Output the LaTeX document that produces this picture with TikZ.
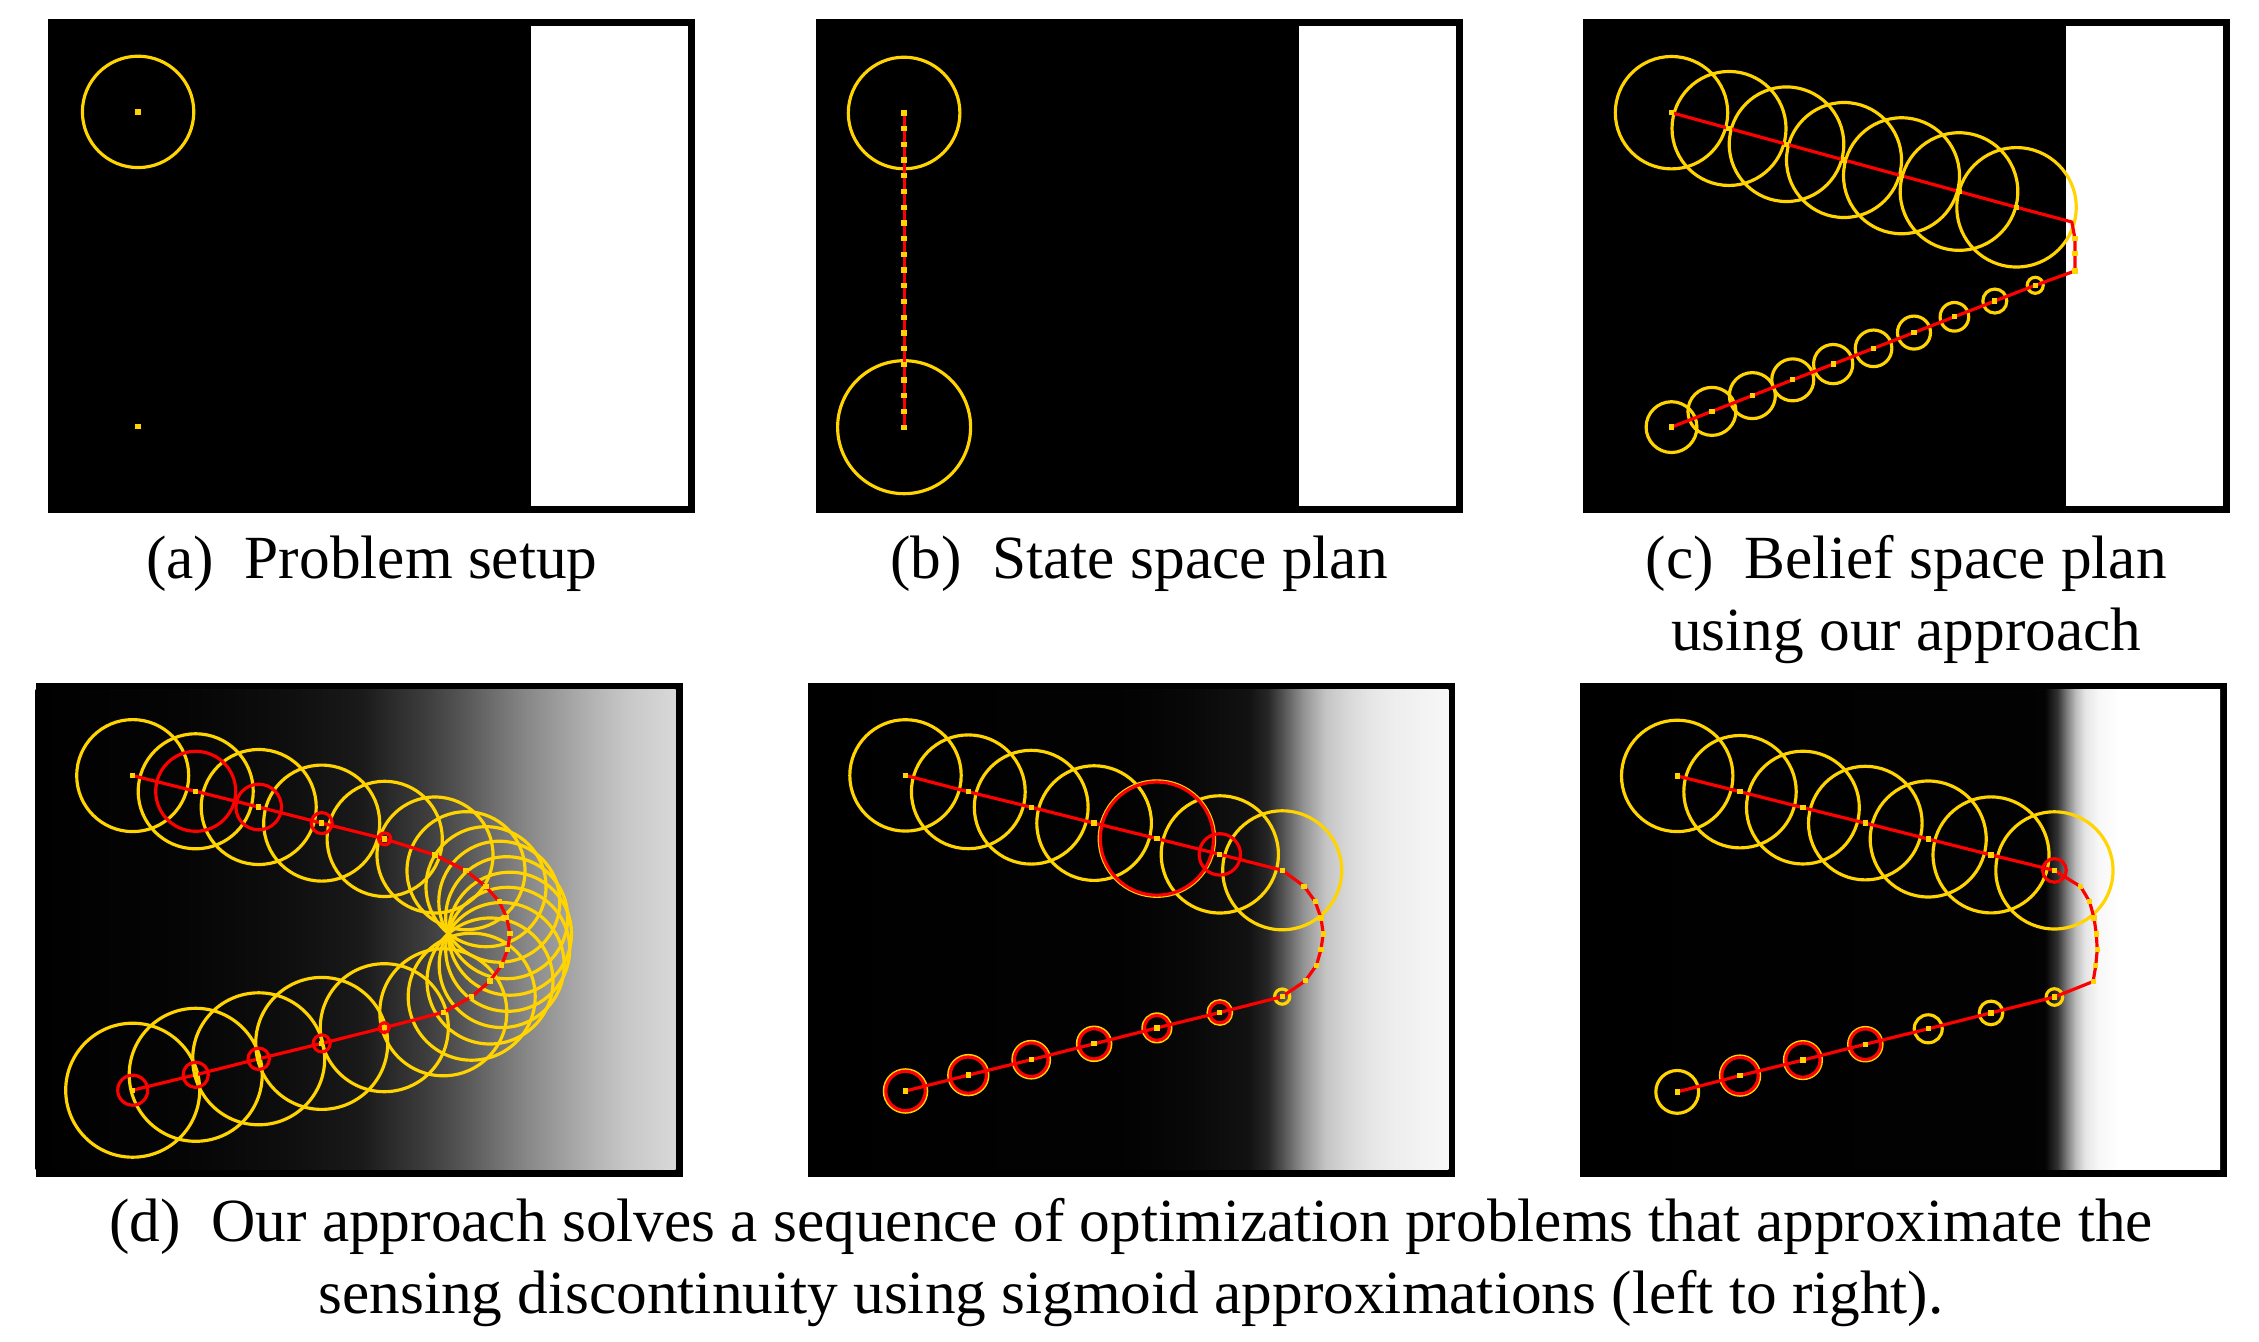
\documentclass[tikz,border=0pt]{standalone}
\usepackage{fontspec}
\setmainfont{Liberation Serif}
\definecolor{gold}{RGB}{255,212,0}
\pgfdeclarehorizontalshading{sigsoft}{100bp}{rgb(0bp)=(0,0,0); rgb(25bp)=(0,0,0); rgb(36.7bp)=(.02,.02,.02); rgb(44.5bp)=(.055,.055,.055); rgb(50.4bp)=(.1,.1,.1); rgb(52.9bp)=(.17,.17,.17); rgb(55.5bp)=(.24,.24,.24); rgb(58.2bp)=(.33,.33,.33); rgb(63.3bp)=(.53,.53,.53); rgb(66bp)=(.62,.62,.62); rgb(68.75bp)=(.71,.71,.71); rgb(71.1bp)=(.78,.78,.78); rgb(75bp)=(.85,.85,.85); rgb(100bp)=(.85,.85,.85)}
\pgfdeclarehorizontalshading{sigmid}{100bp}{rgb(0bp)=(0,0,0); rgb(25bp)=(0,0,0); rgb(50bp)=(.01,.01,.01); rgb(54.7bp)=(.03,.03,.03); rgb(59.4bp)=(.07,.07,.07); rgb(60.9bp)=(.15,.15,.15); rgb(62.1bp)=(.33,.33,.33); rgb(63.7bp)=(.58,.58,.58); rgb(65.4bp)=(.77,.77,.77); rgb(67.2bp)=(.85,.85,.85); rgb(68.9bp)=(.9,.9,.9); rgb(70.6bp)=(.93,.93,.93); rgb(75bp)=(.97,.97,.97); rgb(100bp)=(.97,.97,.97)}
\pgfdeclarehorizontalshading{sigsharp}{100bp}{rgb(0bp)=(0,0,0); rgb(25bp)=(0,0,0); rgb(61.3bp)=(.01,.01,.01); rgb(62.3bp)=(.2,.2,.2); rgb(63.05bp)=(.5,.5,.5); rgb(63.75bp)=(.75,.75,.75); rgb(64.45bp)=(.9,.9,.9); rgb(65.5bp)=(.97,.97,.97); rgb(67.2bp)=(1,1,1); rgb(100bp)=(1,1,1)}
\tikzset{
	belief/.style={draw=gold, line width=0.9pt},
	cov/.style={draw=red, line width=0.9pt},
	traj/.style={draw=red, line width=0.9pt, line join=round},
	wp/.style={fill=gold, inner sep=0pt, minimum size=1.5pt},
	caption/.style={anchor=base, font=\fontsize{17.45}{20.3}\selectfont},
	panel/.style={fill=black},
}
\begin{document}
\begin{tikzpicture}[x=0.1mm, y=-0.1mm]
	\fill[white] (0,0) rectangle (2259,1342);
	% (a)
	\begin{scope}[shift={(48.3,19.5)}]
		\fill[panel] (0,0) rectangle (647,494);
		\fill[white] (483,7) rectangle (640,487);
		\coordinate (aStart) at (89.8,92.4);
		\coordinate (aGoal) at (89.8,406.8);
		\draw[belief] (aStart) circle[radius=55.7];
		\node[wp] at (aStart) {};
		\node[wp] at (aGoal) {};
	\end{scope}
	% (b)
	\begin{scope}[shift={(815.7,19.5)}]
		\fill[panel] (0,0) rectangle (647,494);
		\fill[white] (483,7) rectangle (640,487);
		\coordinate (bStart) at (88.4,93.5);
		\coordinate (bGoal) at (88.4,407.7);
		\draw[belief] (bStart) circle[radius=55.8];
		\draw[belief] (bGoal) circle[radius=66.5];
		\draw[traj] (bStart) -- (bGoal);
		\foreach \i in {0,...,20}
			\node[wp] at (88.4,{93.5+15.71*\i}) {};
	\end{scope}
	% (c)
	\begin{scope}[shift={(1582.7,19.5)}]
		\fill[panel] (0,0) rectangle (647,494);
		\fill[white] (483,7) rectangle (640,487);
		\foreach \k/\r in {0/56.2,1/57,2/57.3,3/57.5,4/58,5/58.8,6/59.7}
			\draw[belief] ({88.8+57.5*\k},{93.2+15.77*\k}) circle[radius=\r];
		\foreach \k/\r in {0/8,1/12,2/14.3,3/16.5,4/18.3,5/19.6,6/21,7/23,8/24,9/25.4}
			\draw[belief] ({452.5-40.41*\k},{265.8+15.76*\k}) circle[radius=\r];
		\draw[traj] (88.8,93.2) -- (433.8,187.8) -- (489.1,202.5) -- (492.2,219) -- (492.2,234.2) -- (492.2,251.5) -- (452.5,265.8) -- (88.8,407.6);
		\foreach \k in {0,...,6}
			\node[wp] at ({88.8+57.5*\k},{93.2+15.77*\k}) {};
		\foreach \y in {219,234.2,251.5}
			\node[wp] at (492.2,\y) {};
		\foreach \k in {0,...,9}
			\node[wp] at ({452.5-40.41*\k},{265.8+15.76*\k}) {};
	\end{scope}
	\node[caption] (capa) at (371.8,579) {(a)\enspace Problem setup};
	\node[caption] (capb) at (1139,579) {(b)\enspace State space plan};
	\node[caption] (capc1) at (1906.2,579) {(c)\enspace Belief space plan};
	\node[caption] (capc2) at (1906.2,650.5) {using our approach};
	% (d)
	\begin{scope}[shift={(35.7,682.7)}]
		\fill[panel] (0,0) rectangle (647,494);
		\shade[shading=sigsoft] (0,7) rectangle (640,487);
		\foreach \x/\y/\r in {97/92.9/56, 160/108.6/57.5, 223/124.3/57.5, 286/140.4/58, 349/156.2/57.6, 399.3/172.3/58, 430.3/188/59, 450.3/204/60, 463.6/219/60.5, 471/235/61, 474.3/251/61.5, 472/266.6/62, 466/282.3/62.5, 454.3/298.3/63, 436/314/63.5, 407.6/329.6/63.5, 348.6/345/64, 286/360.7/66, 223/376.1/66, 160/392.1/66.5, 97/407.5/67}
			\draw[belief] (\x,\y) circle[radius=\r];
		\foreach \x/\y/\r in {160/108.6/40, 223/124.3/22.8, 286/140.4/10.5, 349/156.2/6, 348.6/345/5, 286/360.7/8.5, 223/376.1/10.7, 160/392.1/12.6, 97/407.5/15}
			\draw[cov] (\x,\y) circle[radius=\r];
		\draw[traj] (97,92.9) \foreach \x/\y in {160/108.6, 223/124.3, 286/140.4, 349/156.2, 399.3/172.3, 430.3/188, 450.3/204, 463.6/219, 471/235, 474.3/251, 472/266.6, 466/282.3, 454.3/298.3, 436/314, 407.6/329.6, 348.6/345, 286/360.7, 223/376.1, 160/392.1, 97/407.5} {-- (\x,\y)};
		\foreach \x/\y in {97/92.9, 160/108.6, 223/124.3, 286/140.4, 349/156.2, 399.3/172.3, 430.3/188, 450.3/204, 463.6/219, 471/235, 474.3/251, 472/266.6, 466/282.3, 454.3/298.3, 436/314, 407.6/329.6, 348.6/345, 286/360.7, 223/376.1, 160/392.1, 97/407.5}
			\node[wp] at (\x,\y) {};
	\end{scope}
	% (e)
	\begin{scope}[shift={(808.3,682.7)}]
		\fill[panel] (0,0) rectangle (647,494);
		\shade[shading=sigmid] (0,7) rectangle (640,487);
		\foreach \x/\y/\r in {97.2/92.7/55.7, 160/109.1/56.9, 222.9/124.5/56.9, 285.8/140.4/57.3, 348.6/155.9/57.7, 411.5/171.7/58.6, 473.9/187.6/59.5, 473.9/313.9/7.6, 411.5/329.8/11.8, 348.6/345.2/14, 285.8/361.1/16.7, 222.9/377/18.3, 160/392.4/19.6, 97.2/408.3/21.2}
			\draw[belief] (\x,\y) circle[radius=\r];
		\foreach \x/\y/\r in {348.6/155.9/56.6, 411.5/171.7/20.7, 411.5/329.8/10.3, 348.6/345.2/12.5, 285.8/361.1/15.1, 222.9/377/16.8, 160/392.4/18.1, 97.2/408.3/19.7}
			\draw[cov] (\x,\y) circle[radius=\r];
		\draw[traj] (97.2,92.7) \foreach \x/\y in {160/109.1, 222.9/124.5, 285.8/140.4, 348.6/155.9, 411.5/171.7, 473.9/187.6, 495.8/203.5, 506.9/219, 512.7/235.3, 514.9/251.2, 512.7/266.6, 508.2/282.5, 497.1/298, 473.9/313.9, 411.5/329.8, 348.6/345.2, 285.8/361.1, 222.9/377, 160/392.4, 97.2/408.3} {-- (\x,\y)};
		\foreach \x/\y in {97.2/92.7, 160/109.1, 222.9/124.5, 285.8/140.4, 348.6/155.9, 411.5/171.7, 473.9/187.6, 495.8/203.5, 506.9/219, 512.7/235.3, 514.9/251.2, 512.7/266.6, 508.2/282.5, 497.1/298, 473.9/313.9, 411.5/329.8, 348.6/345.2, 285.8/361.1, 222.9/377, 160/392.4, 97.2/408.3}
			\node[wp] at (\x,\y) {};
	\end{scope}
	% (f)
	\begin{scope}[shift={(1580,682.7)}]
		\fill[panel] (0,0) rectangle (647,494);
		\shade[shading=sigsharp] (0,7) rectangle (640,487);
		\foreach \x/\y/\r in {97.2/93.2/55.7, 160/109/56.2, 222.9/124.9/56.4, 285.3/140.4/56.8, 348.2/156.3/58, 411/172.2/58, 474.4/187.7/58.6, 474.4/314.3/8.3, 411/330.2/11.8, 348.2/346.1/14, 285.3/361.5/16.7, 222.9/377.4/18.5, 160/392.9/19.6, 97.2/409.2/21.4}
			\draw[belief] (\x,\y) circle[radius=\r];
		\foreach \x/\y/\r in {474.4/187.7/11.8, 285.3/361.5/15.3, 222.9/377.4/17.1, 160/392.9/18.2}
			\draw[cov] (\x,\y) circle[radius=\r];
		\draw[traj] (97.2,93.2) \foreach \x/\y in {160/109, 222.9/124.9, 285.3/140.4, 348.2/156.3, 411/172.2, 474.4/187.7, 500.7/204, 509.6/219, 514/235.3, 516.3/251.2, 517.2/267.1, 515.8/282.5, 513.1/298.8, 474.4/314.3, 411/330.2, 348.2/346.1, 285.3/361.5, 222.9/377.4, 160/392.9, 97.2/409.2} {-- (\x,\y)};
		\foreach \x/\y in {97.2/93.2, 160/109, 222.9/124.9, 285.3/140.4, 348.2/156.3, 411/172.2, 474.4/187.7, 500.7/204, 509.6/219, 514/235.3, 516.3/251.2, 517.2/267.1, 515.8/282.5, 513.1/298.8, 474.4/314.3, 411/330.2, 348.2/346.1, 285.3/361.5, 222.9/377.4, 160/392.9, 97.2/409.2}
			\node[wp] at (\x,\y) {};
	\end{scope}
	\node[caption] (capd1) at (1131,1241.7) {(d)\enspace Our approach solves a sequence of optimization problems that approximate the};
	\node[caption] (capd2) at (1131,1313) {sensing discontinuity using sigmoid approximations (left to right).};
\end{tikzpicture}
\end{document}
